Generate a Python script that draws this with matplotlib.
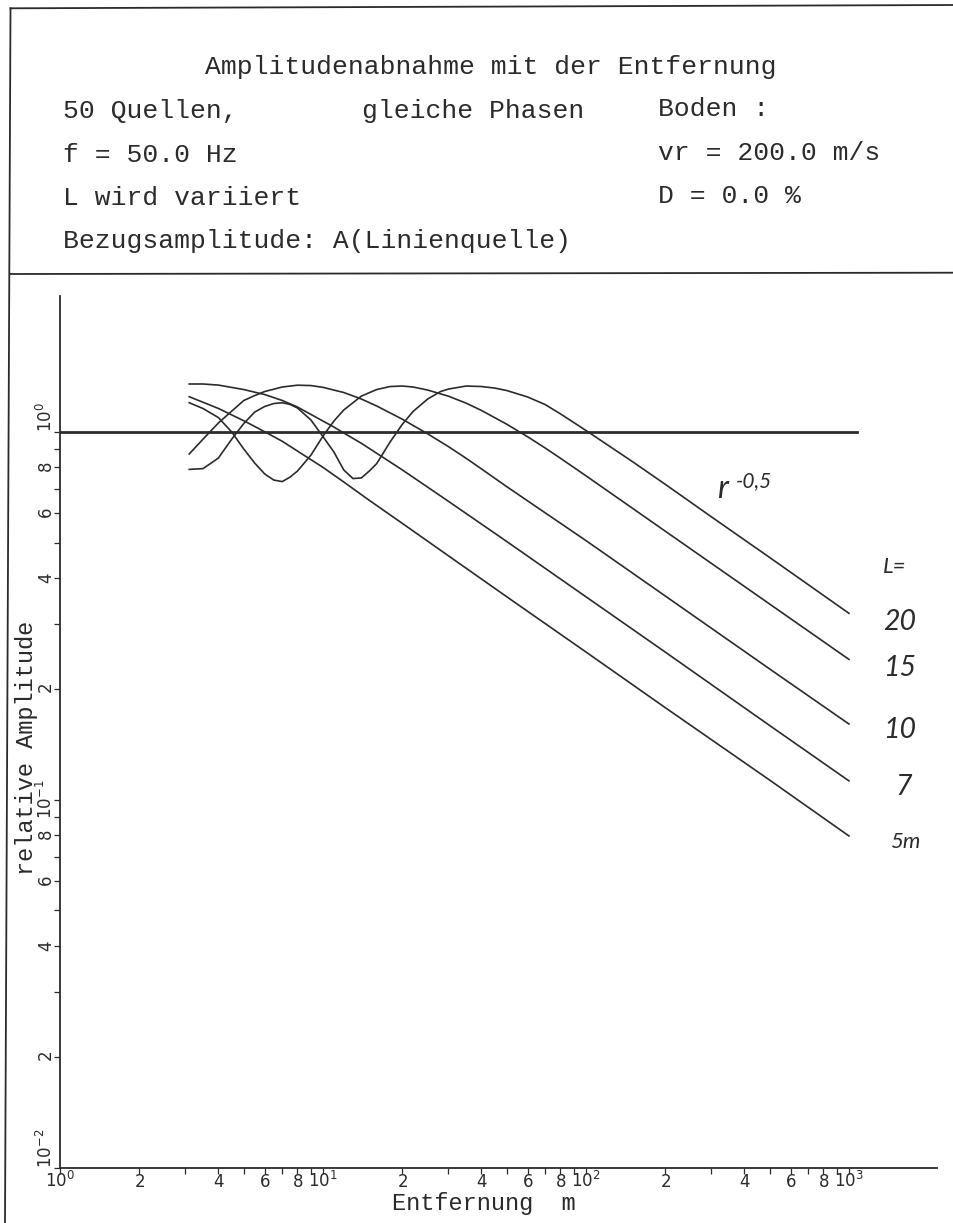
import math
import matplotlib
matplotlib.use("Agg")
import matplotlib.pyplot as plt
from matplotlib.lines import Line2D
from matplotlib.ticker import FixedLocator, FuncFormatter

r_L5 = [3.1, 4, 5, 6, 7, 8, 10, 12, 15, 20, 30, 50, 100, 200, 500, 1000]
A_L5 = [1.245, 1.157, 1.071, 1.0, 0.942, 0.886, 0.800, 0.730, 0.651, 0.564,
        0.460, 0.356, 0.252, 0.178, 0.113, 0.0797]

r_L7 = [3.1, 3.5, 4, 5, 6, 7, 8, 10, 11, 12, 14, 16, 20, 30, 50, 100, 200, 500, 1000]
A_L7 = [1.348, 1.348, 1.339, 1.302, 1.262, 1.216, 1.167, 1.069, 1.030, 0.992,
        0.930, 0.874, 0.788, 0.647, 0.503, 0.356, 0.252, 0.159, 0.1125]

r_L10 = [3.1, 3.5, 4, 4.5, 5, 5.5, 6, 7, 8, 9, 10, 12, 14, 16, 20, 25, 30, 35,
         40, 50, 100, 200, 500, 1000]
A_L10 = [0.870, 0.955, 1.056, 1.138, 1.216, 1.254, 1.286, 1.323, 1.338, 1.335,
         1.320, 1.278, 1.227, 1.175, 1.082, 0.987, 0.911, 0.847, 0.793, 0.709,
         0.506, 0.358, 0.2265, 0.1606]

r_L15 = [3.1, 3.5, 4, 4.5, 5, 5.5, 6, 6.5, 7, 7.5, 8, 9, 10, 11, 12, 14, 16, 18,
         20, 22, 25, 30, 35, 40, 50, 60, 70, 80, 100, 150, 200, 500, 1000]
A_L15 = [1.199, 1.156, 1.093, 0.998, 0.897, 0.822, 0.768, 0.739, 0.732, 0.753,
         0.782, 0.864, 0.973, 1.069, 1.146, 1.250, 1.302, 1.327, 1.331, 1.323,
         1.298, 1.249, 1.196, 1.143, 1.048, 0.969, 0.903, 0.847, 0.759, 0.620,
         0.537, 0.340, 0.2406]

r_L20 = [3.1, 3.5, 4, 4.5, 5, 5.5, 6, 6.5, 7, 7.5, 8, 9, 10, 11, 12, 13, 14, 15,
         16, 18, 20, 22, 25, 28, 30, 35, 40, 45, 50, 60, 70, 80, 100, 150, 200,
         300, 500, 1000]
A_L20 = [0.790, 0.794, 0.848, 0.955, 1.053, 1.131, 1.171, 1.193, 1.199, 1.186,
         1.160, 1.076, 0.970, 0.881, 0.787, 0.746, 0.749, 0.782, 0.819, 0.938,
         1.046, 1.135, 1.227, 1.286, 1.306, 1.331, 1.327, 1.314, 1.294, 1.243,
         1.185, 1.118, 1.008, 0.830, 0.720, 0.587, 0.455, 0.321]

# Bezugsamplitude (Linienquelle)
r_ref = [1.0, 1070.0]
A_ref = [1.0, 1.0]

curves = [(r_L5, A_L5), (r_L7, A_L7), (r_L10, A_L10), (r_L15, A_L15), (r_L20, A_L20)]
L_labels = ["20", "15", "10", "7"]

x_major = [1, 2, 4, 6, 8, 10, 20, 40, 60, 80, 100, 200, 400, 600, 800, 1000]
x_minor = [3, 5, 7, 9, 30, 50, 70, 90, 300, 500, 700, 900]
y_major = [0.01, 0.02, 0.04, 0.06, 0.08, 0.1, 0.2, 0.4, 0.6, 0.8, 1.0]
y_minor = [0.03, 0.05, 0.07, 0.09, 0.3, 0.5, 0.7, 0.9]

ink = "#2b2b2b"
mono = "Liberation Mono"
W, H = 954, 1223

plt.rcParams["mathtext.default"] = "regular"
fig = plt.figure(figsize=(W / 100, H / 100), dpi=100)


def fx(x):
    return x / W


def fy(y):
    return 1 - y / H


# Rahmen und Trennlinie (leicht schief wie im Scan)
for xs, ys in [([10.5, 5], [8.3, 1223]), ([10.5, 954], [8.3, 5]), ([10, 954], [274, 272.7])]:
    fig.add_artist(Line2D([fx(v) for v in xs], [fy(v) for v in ys],
                          transform=fig.transFigure, color=ink, lw=1.3))

# Kopfzeilen
head = dict(family=mono, size=19, color=ink, va="baseline")
fig.text(fx(491), fy(74), "Amplitudenabnahme mit der Entfernung", ha="center", **head)
fig.text(fx(63), fy(118), "50 Quellen,", **head)
fig.text(fx(362), fy(118), "gleiche Phasen", **head)
fig.text(fx(658), fy(116), "Boden :", **head)
fig.text(fx(63), fy(162), "f = 50.0 Hz", **head)
fig.text(fx(658), fy(160), "vr = 200.0 m/s", **head)
fig.text(fx(63), fy(205), "L wird variiert", **head)
fig.text(fx(658), fy(203), "D = 0.0 %", **head)
fig.text(fx(63), fy(248), "Bezugsamplitude: A(Linienquelle)", **head)

ax = fig.add_axes([fx(60), fy(1167.7), fx(936.7) - fx(60), fy(296) - fy(1167.7)])
ax.set_xscale("log")
ax.set_yscale("log")
ax.set_xlim(1, 2156)
ax.set_ylim(0.01, 2.338)

ax.plot(r_ref, A_ref, color=ink, lw=2.0)
for r, a in curves:
    ax.plot(r, a, color=ink, lw=1.2)


def tick_text(v, pos):
    k = math.floor(math.log10(v) + 1e-9)
    m = round(v / 10 ** k)
    if m == 1:
        return r"$\mathdefault{10^{%d}}$" % k
    return r"$\mathdefault{%d}$" % m


for axis, major, minor in [(ax.xaxis, x_major, x_minor), (ax.yaxis, y_major, y_minor)]:
    axis.set_major_locator(FixedLocator(major))
    axis.set_minor_locator(FixedLocator(minor))
    axis.set_major_formatter(FuncFormatter(tick_text))

ax.tick_params(which="both", length=4, width=0.9, color=ink, labelcolor=ink, labelsize=12)
ax.tick_params(axis="x", pad=10)
ax.tick_params(axis="y", labelrotation=90, pad=1.5)
plt.setp(ax.get_xticklabels(), va="baseline")
plt.setp(ax.get_yticklabels(), rotation=90, rotation_mode="anchor", ha="center", va="baseline")
# die Beschriftungen 10^-2 und 10^0 beginnen am Teilstrich
for tick, v in zip(ax.yaxis.get_major_ticks(), y_major):
    if v in (0.01, 1.0):
        tick.label1.set_horizontalalignment("left")

for side in ["top", "right"]:
    ax.spines[side].set_visible(False)
for side in ["left", "bottom"]:
    ax.spines[side].set_color(ink)
    ax.spines[side].set_linewidth(1.3)

ax.set_xlabel("Entfernung  m", family=mono, size=17, color=ink, va="center")
ax.xaxis.set_label_coords((484 - 60) / 876.7, -36 / 871.7)
ax.set_ylabel("relative Amplitude", family=mono, size=17, color=ink, va="center")
ax.yaxis.set_label_coords((27 - 60) / 876.7, (1167.7 - 748) / 871.7)

# Beschriftung der Kurven
lab = dict(family="Lato", style="italic", color=ink, va="baseline")
fig.text(fx(717), fy(498), "r", size=23, **lab)
fig.text(fx(736), fy(487), "-0,5", size=15, **lab)
fig.text(fx(883), fy(573), "L=", size=16, **lab)
for text, x, y in zip(L_labels, [883, 883, 883, 895], [630, 676, 738, 795]):
    fig.text(fx(x), fy(y), text, size=20.5, **lab)
fig.text(fx(890), fy(848), "5m", size=16, **lab)

fig.savefig("out.png", dpi=100)
